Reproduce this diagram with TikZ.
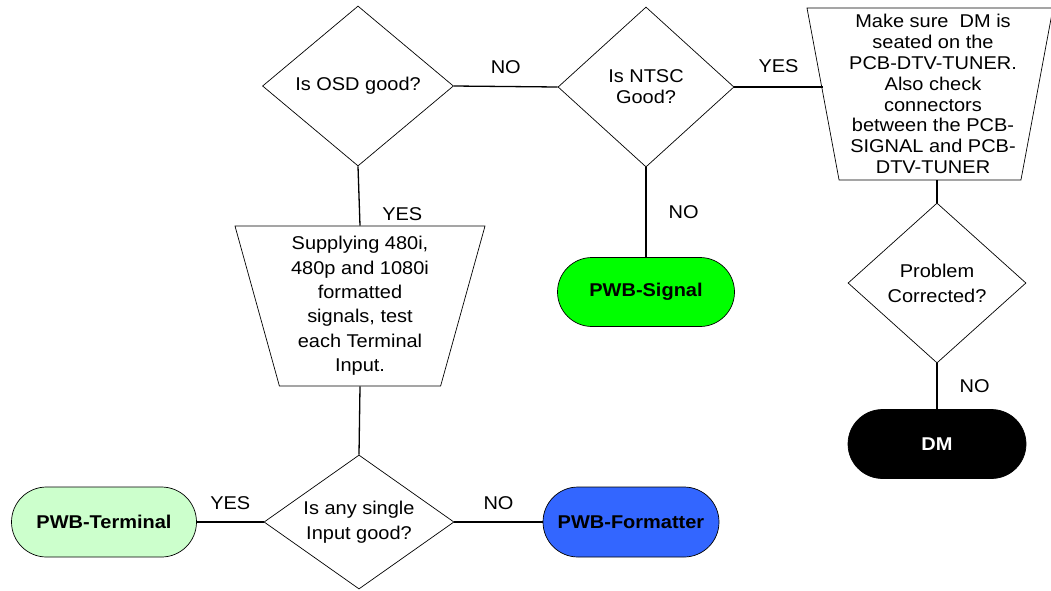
\documentclass[tikz,border=0pt]{standalone}
\usepackage{fontspec}
\setmainfont{Liberation Sans}[FakeStretch=1.08]
\usetikzlibrary{shapes.geometric,shapes.misc}
\definecolor{lightgreen}{HTML}{CCFFCC}
\definecolor{signalgreen}{HTML}{00FF00}
\definecolor{fmtblue}{HTML}{3366FF}
\begin{document}
\begin{tikzpicture}[x=1pt,y=-1pt,
  txt/.style={font=\fontsize{18.5}{21}\selectfont},
  dia/.style={diamond, draw, line width=0.7pt, inner sep=0pt, fill=white},
  trap/.style={trapezium, draw, line width=0.7pt, inner sep=2pt, trapezium stretches=true, shape border rotate=180},
  term/.style={rounded rectangle, draw, line width=0.7pt, inner sep=0pt, font=\fontsize{18.5}{21}\bfseries\selectfont},
  conn/.style={line width=1.3pt},
  lbl/.style={font=\fontsize{18.5}{21}\selectfont, inner sep=2pt}
]
\useasboundingbox (0,0) rectangle (1051,590);

% decisions
\node[dia, minimum width=191pt, minimum height=160pt,
  label={[txt,align=center]center:Is OSD good?}] (osd) at (358,86) {};
\node[dia, minimum width=176pt, minimum height=160pt,
  label={[align=center,font=\fontsize{18.5}{21}\selectfont]center:{Is NTSC\\Good?}}] (ntsc) at (646,87) {};
\node[dia, minimum width=178pt, minimum height=160pt,
  label={[align=center,font=\fontsize{18.5}{25}\selectfont]center:{Problem\\Corrected?}}] (prob) at (937,283) {};
\node[dia, minimum width=190pt, minimum height=134pt,
  label={[align=center,font=\fontsize{18.5}{25}\selectfont]center:{Is any single\\Input good?}}] (single) at (359,522) {};

% process boxes
\node[trap, minimum width=246pt, minimum height=172pt,
  trapezium left angle=80, trapezium right angle=80,
  label={[align=center,font=\fontsize{18.5}{20.8}\selectfont,xshift=3pt]center:{Make sure~ DM is\\seated on the\\PCB-DTV-TUNER.\\Also check\\connectors\\between the PCB-\\SIGNAL and PCB-\\DTV-TUNER}}] (dmtrap) at (930,94) {};
\node[trap, minimum width=250pt, minimum height=160pt,
  trapezium left angle=74.6, trapezium right angle=74.6,
  label={[align=center,font=\fontsize{18.5}{24.4}\selectfont]center:{Supplying 480i,\\480p and 1080i\\formatted\\signals, test\\each Terminal\\Input.}}] (supply) at (360,306) {};

% terminals
\node[term, fill=signalgreen, minimum width=177pt, minimum height=69pt] (signal) at (646,292) {PWB-Signal};
\node[term, fill=black, text=white, minimum width=178pt, minimum height=69pt] (dm) at (937,444) {DM};
\node[term, fill=lightgreen, minimum width=185pt, minimum height=70pt] (terminal) at (104,522) {PWB-Terminal};
\node[term, fill=fmtblue, minimum width=176pt, minimum height=70pt] (fmt) at (631,522) {PWB-Formatter};

% connectors
\draw[conn] (osd.east) -- node[lbl, above=10pt] {NO} (ntsc.west);
\draw[conn] (ntsc.east) -- node[lbl, above=12pt] {YES} (ntsc.east -| dmtrap.west);
\draw[conn] (osd.south) -- node[lbl, pos=0.8, right=20pt] {YES} (supply.north);
\draw[conn] (ntsc.south) -- node[lbl, right=20pt] {NO} (signal.north);
\draw[conn] (prob.north |- dmtrap.south) -- (prob.north);
\draw[conn] (prob.south) -- node[lbl, right=20pt] {NO} (dm.north);
\draw[conn] (supply.south) -- (single.north);
\draw[conn] (single.west) -- node[lbl, above=10pt] {YES} (terminal.east);
\draw[conn] (single.east) -- node[lbl, above=10pt] {NO} (fmt.west);
\end{tikzpicture}
\end{document}
